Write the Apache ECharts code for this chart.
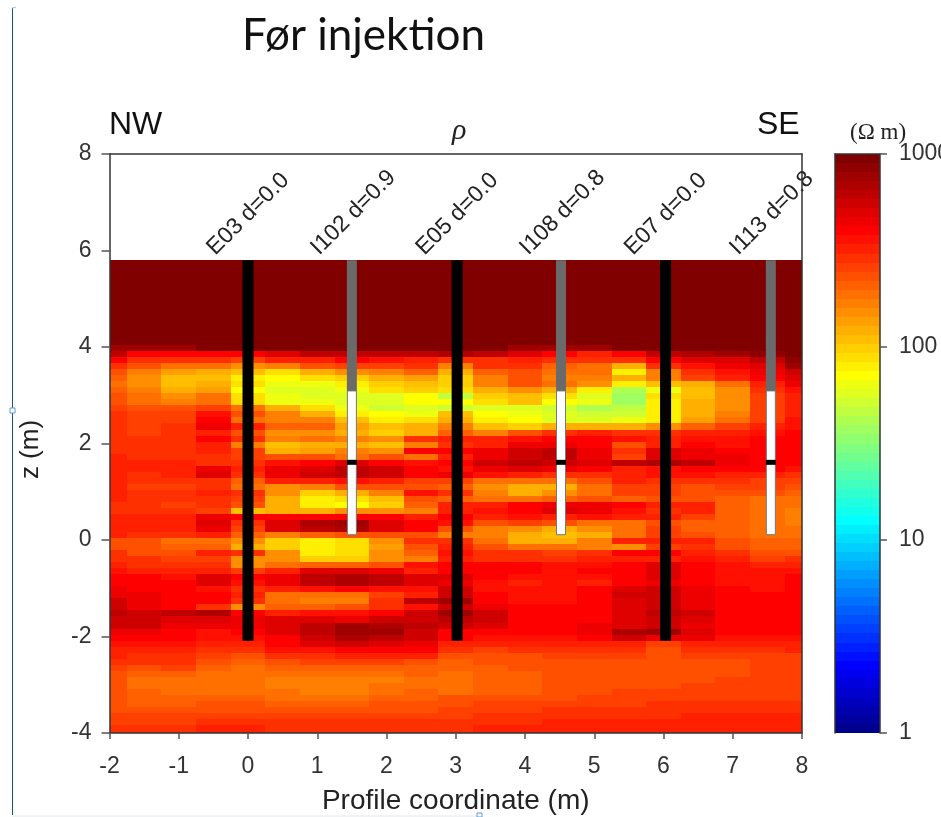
<!DOCTYPE html>
<html><head><meta charset="utf-8">
<style>html,body{margin:0;padding:0;background:#fff}#c{width:941px;height:817px}</style>
<script src="https://cdn.jsdelivr.net/npm/echarts@6/dist/echarts.min.js"></script>
</head><body><div id="c"></div>
<script>
const columnX = [-2,-1.5,-1,-0.5,0,0.5,1,1.5,2,2.5,3,3.5,4,4.5,5,5.5,6,6.5,7,7.5,8];
const surfaceZ = 5.79, rowStep = 0.125, bottomZ = -4;
const rhoRows = [
[1000,1000,1000,1000,1000,1000,1000,1000,1000,1000,1000,1000,1000,1000,1000,1000,1000,1000,1000,1000,1000],
[1000,1000,1000,1000,1000,1000,1000,1000,1000,1000,1000,1000,1000,1000,1000,1000,1000,1000,1000,1000,1000],
[1000,1000,1000,1000,1000,1000,1000,1000,1000,1000,1000,1000,1000,1000,1000,1000,1000,1000,1000,1000,1000],
[1000,1000,1000,1000,1000,1000,1000,1000,1000,1000,1000,1000,1000,1000,1000,1000,1000,1000,1000,1000,1000],
[1000,1000,1000,1000,1000,1000,1000,1000,1000,1000,1000,1000,1000,1000,1000,1000,1000,1000,1000,1000,1000],
[1000,1000,1000,1000,1000,1000,1000,1000,1000,1000,1000,1000,1000,1000,1000,1000,1000,1000,1000,1000,1000],
[1000,1000,1000,1000,1000,1000,1000,1000,1000,1000,1000,1000,1000,1000,1000,1000,1000,1000,1000,1000,1000],
[1000,1000,1000,1000,1000,1000,1000,1000,1000,1000,1000,1000,1000,1000,1000,1000,1000,1000,1000,1000,1000],
[1000,1000,1000,1000,1000,1000,1000,1000,1000,1000,1000,1000,1000,1000,1000,1000,1000,1000,1000,1000,1000],
[1000,1000,1000,1000,1000,1000,1000,1000,1000,1000,1000,1000,1000,1000,1000,1000,1000,1000,1000,1000,1000],
[1000,1000,1000,1000,1000,1000,1000,1000,1000,1000,1000,1000,1000,1000,1000,1000,1000,1000,1000,1000,1000],
[1000,1000,1000,1000,1000,1000,1000,1000,1000,1000,1000,1000,1000,1000,1000,1000,1000,1000,1000,1000,1000],
[1000,1000,1000,1000,1000,1000,1000,1000,1000,1000,1000,1000,1000,1000,1000,1000,1000,1000,1000,1000,1000],
[1000,1000,1000,1000,1000,1000,1000,1000,1000,1000,1000,1000,1000,1000,1000,1000,1000,1000,1000,1000,1000],
[850,850,850,1000,1000,1000,1000,1000,1000,1000,1000,1000,850,850,850,1000,1000,1000,1000,1000,1000],
[630,422,422,422,422,500,630,630,680,680,720,680,500,422,350,400,630,720,850,940,1000],
[410,315,315,295,275,335,350,400,370,350,295,315,335,315,295,295,422,500,540,680,940],
[315,235,205,195,168,178,255,275,275,295,178,295,315,220,195,133,295,370,470,520,780],
[235,178,143,133,116,89,133,155,178,220,133,220,255,195,205,84,178,315,360,470,605],
[220,168,116,116,84,75,89,108,124,143,101,178,235,178,178,133,178,275,335,422,540],
[205,168,116,133,89,68,66,84,101,116,104,178,235,205,155,84,116,133,205,350,470],
[220,178,133,143,75,58,58,64,89,101,89,124,155,133,80,45,64,116,155,295,370],
[235,195,155,195,89,64,58,61,61,75,50,101,116,89,63,40,95,116,155,275,350],
[255,205,178,195,89,70,66,61,58,75,72,89,116,72,64,40,86,124,168,275,340],
[275,255,235,275,205,133,92,68,55,58,57,63,63,57,45,50,84,133,168,275,340],
[295,275,275,370,235,178,133,86,72,70,116,72,64,60,55,57,84,133,178,275,350],
[295,285,285,400,195,178,178,116,86,89,133,80,72,63,63,66,86,143,195,275,370],
[305,275,305,470,335,220,220,143,116,133,178,116,108,124,124,124,155,220,275,325,380],
[305,275,305,350,235,168,168,133,108,124,220,178,255,295,335,315,295,350,350,360,400],
[315,305,315,400,295,178,205,178,155,295,350,325,360,400,422,380,350,380,370,400,410],
[315,305,315,350,178,116,124,133,116,178,315,350,485,485,400,255,350,400,370,400,410],
[315,305,315,350,275,133,143,178,168,400,422,485,585,630,470,295,500,470,435,410,422],
[350,315,315,315,275,235,255,205,235,205,335,485,605,630,450,275,540,470,450,410,435],
[350,325,325,315,315,370,422,500,422,370,410,560,650,605,540,680,750,650,485,422,422],
[340,325,335,470,335,470,540,680,560,435,380,485,540,485,410,350,380,435,410,400,360],
[340,315,325,520,315,485,560,680,560,410,485,360,350,315,315,350,370,360,350,335,315],
[335,295,295,295,220,350,350,370,350,275,275,205,195,195,255,335,295,295,315,285,275],
[335,285,285,295,195,168,178,235,255,255,220,155,133,133,205,275,275,235,275,275,235],
[340,305,305,350,315,155,101,133,178,370,315,178,133,155,205,275,275,235,255,255,220],
[335,305,295,315,275,133,84,95,116,235,220,195,195,220,235,220,255,235,220,195,205],
[295,295,275,295,235,133,86,72,101,220,350,350,400,470,470,422,350,335,220,205,190],
[305,305,305,275,116,133,133,155,168,178,325,370,435,500,485,380,295,325,220,205,185],
[350,335,340,485,400,422,435,435,400,350,400,350,370,350,370,325,325,275,220,205,185],
[335,335,350,520,295,520,720,780,500,422,370,255,275,255,195,205,235,220,215,205,185],
[350,335,335,485,275,500,680,720,500,435,255,178,168,124,155,205,275,220,215,205,195],
[335,295,315,350,220,178,220,235,235,235,178,178,124,116,124,205,275,235,220,205,200],
[245,235,205,195,155,108,84,98,155,295,295,195,133,124,178,350,350,335,255,220,215],
[235,235,215,220,124,108,84,92,150,255,350,235,195,200,185,168,275,295,255,220,220],
[295,255,245,335,315,155,86,92,155,220,380,295,315,275,295,400,400,340,295,235,235],
[315,295,275,275,168,155,101,108,168,178,335,295,315,315,335,350,350,360,325,275,295],
[335,315,295,295,168,205,220,220,255,370,410,422,422,370,360,400,540,422,370,335,335],
[360,350,335,335,275,335,500,500,470,350,400,422,410,360,400,410,540,410,380,370,370],
[400,400,380,500,400,485,680,750,630,520,520,400,370,360,380,400,520,410,380,380,400],
[410,400,410,520,380,485,680,750,630,520,485,370,350,360,350,422,470,410,380,380,400],
[470,435,410,370,295,335,370,400,380,370,560,380,360,360,400,540,560,470,410,380,400],
[485,470,422,400,350,195,205,195,275,335,585,400,360,360,400,560,560,485,410,400,400],
[560,485,422,422,315,195,178,178,295,630,850,422,370,360,400,540,560,485,422,400,400],
[560,485,435,315,155,220,220,255,295,370,560,450,410,400,422,540,605,485,422,422,410],
[630,605,630,700,435,350,370,380,422,585,780,605,422,410,422,540,630,585,422,422,410],
[605,585,540,520,450,500,520,485,585,585,630,585,435,422,435,540,605,500,435,422,410],
[560,560,470,485,485,540,680,780,720,650,585,520,435,435,485,540,560,485,435,435,410],
[450,470,422,380,435,540,680,810,780,605,422,410,422,400,485,750,780,500,435,435,410],
[422,422,422,380,380,435,585,750,680,605,422,380,370,380,422,560,485,485,370,370,370],
[380,360,360,335,335,422,500,560,500,485,350,335,350,350,350,350,265,335,335,335,350],
[335,350,350,315,315,360,370,422,422,410,295,275,295,315,315,295,245,295,295,295,325],
[335,315,315,275,245,295,295,325,325,325,245,245,255,275,275,275,235,275,275,275,285],
[305,295,295,235,220,245,265,265,265,245,230,245,245,235,235,245,235,245,245,265,265],
[275,255,265,220,200,215,220,220,220,220,220,230,245,235,235,245,235,245,245,265,265],
[245,220,215,205,195,200,195,195,205,215,205,220,220,235,235,245,235,245,245,265,265],
[245,205,205,195,195,185,185,185,185,205,200,220,220,245,245,245,235,255,265,265,265],
[235,205,205,195,195,185,185,185,195,205,200,220,220,245,245,245,245,265,275,275,275],
[235,215,205,200,197,200,185,185,205,215,200,230,230,245,245,275,275,275,275,275,275],
[235,215,215,220,220,205,205,205,215,230,235,245,255,255,265,275,275,285,285,285,285],
[235,220,220,245,235,220,220,220,235,235,245,265,265,275,275,285,295,305,305,305,305],
[255,255,255,255,255,255,245,245,255,255,265,285,285,295,295,305,315,315,315,315,315],
[275,275,275,275,275,275,275,275,275,275,285,295,295,305,315,315,315,325,325,325,325],
[285,285,285,305,305,295,295,295,295,295,305,315,315,335,335,335,335,335,335,335,335],
[315,315,315,325,325,315,315,315,315,315,315,335,335,340,340,340,340,340,340,340,340]
];
const electrodeX = [0,3.02,6.03];
const electrodeTop = 5.8, electrodeBottom = -2.09;
const injectionX = [1.5,4.52,7.55];
const casingTop = 5.8, screenTop = 3.09, screenBottom = 0.11, packerZ = 1.61;
const wellLabelX = [0,1.5,3.02,4.52,6.03,7.55];
const wellLabels = ['E03 d=0.0','I102 d=0.9','E05 d=0.0','I108 d=0.8','E07 d=0.0','I113 d=0.8'];
const labelZ = 6;

function jet(t){
  const c=v=>Math.round(255*Math.max(0,Math.min(1,v)));
  return `rgb(${c(1.5-Math.abs(4*t-3))},${c(1.5-Math.abs(4*t-2))},${c(1.5-Math.abs(4*t-1))})`;
}
function rhoColor(v){
  const n=Math.max(1,Math.min(64,Math.round(Math.log10(v)/3*64)));
  return jet(n/64);
}
const cells=[];
rhoRows.forEach((row,r)=>row.forEach((v,c)=>cells.push([c,r,v])));
const nRows=rhoRows.length;
function cellItem(params,api){
  const c=api.value(0), r=api.value(1), x=columnX[c];
  const zt=r===0?electrodeTop:surfaceZ-r*rowStep;
  const zb=r===nRows-1?bottomZ:surfaceZ-(r+1)*rowStep;
  const x0=Math.max(x-0.25,columnX[0]), x1=Math.min(x+0.25,columnX[columnX.length-1]);
  const a=api.coord([x0,zt]), b=api.coord([x1,zb]);
  const X=Math.round(a[0]), Y=Math.round(a[1]);
  return {type:'rect',shape:{x:X,y:Y,width:Math.round(b[0])-X,height:Math.round(b[1])-Y},
    style:{fill:rhoColor(api.value(2))}};
}
function wellItem(params,api){
  const x=api.value(0), kind=api.value(1);
  const px=api.coord([x,0])[0];
  const Y=z=>api.coord([x,z])[1];
  if(kind===0){
    return {type:'rect',shape:{x:px-5.5,y:Y(electrodeTop),width:11,height:Y(electrodeBottom)-Y(electrodeTop)},style:{fill:'#000'}};
  }
  return {type:'group',children:[
    {type:'rect',shape:{x:px-5,y:Y(casingTop),width:10,height:Y(screenTop)-Y(casingTop)},style:{fill:'#6a6a6a'}},
    {type:'rect',shape:{x:px-4.5,y:Y(screenTop),width:9,height:Y(screenBottom)-Y(screenTop)},style:{fill:'#fff',stroke:'#777',lineWidth:1}},
    {type:'rect',shape:{x:px-5,y:Y(packerZ)-2.5,width:10,height:5},style:{fill:'#000'}}
  ]};
}
function labelItem(params,api){
  const i=api.value(0);
  const p=api.coord([wellLabelX[i],labelZ]);
  return {type:'text',x:p[0]-29,y:p[1]+9,rotation:Math.PI/4,
    style:{text:wellLabels[i],fill:'#222',font:'23px "Liberation Sans"',textAlign:'left',textVerticalAlign:'bottom'}};
}
function bandItem(params,api){
  const n=api.value(0);
  const a=api.coord([0,Math.pow(10,3*n/64)]), b=api.coord([1,Math.pow(10,3*(n-1)/64)]);
  return {type:'rect',shape:{x:a[0],y:Math.round(a[1]),width:b[0]-a[0],height:Math.round(b[1])-Math.round(a[1])},style:{fill:jet(n/64)}};
}
const bands=[]; for(let n=1;n<=64;n++) bands.push([n]);
const axisLine={show:true,onZero:false,lineStyle:{color:'#333',width:1.5}};
const tick={show:true,inside:false,length:8,lineStyle:{color:'#555',width:1.5}};
const lab={color:'#333',fontFamily:'Liberation Sans',fontSize:23};
const chart=echarts.init(document.getElementById('c'),null,{renderer:'canvas'});
chart.setOption({
  animation:false,backgroundColor:'#fff',
  title:[
    {text:'Før injektion',left:237,top:9,textStyle:{fontFamily:'Lato',fontSize:44,fontWeight:'normal',color:'#111'}},
    {text:'NW',left:104,top:104,textStyle:{fontFamily:'Liberation Sans',fontSize:32,fontWeight:'normal',color:'#111'}},
    {text:'SE',left:752,top:104,textStyle:{fontFamily:'Liberation Sans',fontSize:32,fontWeight:'normal',color:'#111'}},
    {text:'ρ',left:447,top:111,textStyle:{fontFamily:'Liberation Serif',fontSize:30,fontStyle:'italic',fontWeight:'normal',color:'#222'}},
    {text:'(Ω m)',left:845,top:116,textStyle:{fontFamily:'Liberation Serif',fontSize:23,fontWeight:'normal',color:'#222'}}
  ],
  grid:[
    {left:109.5,top:154,width:692.5,height:579,show:false,outerBoundsMode:'none'},
    {left:835,top:154,width:45,height:579,show:false,outerBoundsMode:'none'}
  ],
  xAxis:[
    {type:'value',gridIndex:0,min:-2,max:8,interval:1,position:'bottom',z:5,
     name:'Profile coordinate (m)',nameLocation:'middle',nameGap:54,
     nameTextStyle:{color:'#222',fontFamily:'Liberation Sans',fontSize:28},
     splitLine:{show:false},axisLine,axisTick:{...tick,length:6},axisLabel:{...lab,margin:22}},
    {type:'value',gridIndex:0,min:-2,max:8,position:'top',z:5,splitLine:{show:false},axisLine,axisTick:{show:false},axisLabel:{show:false}},
    {type:'value',gridIndex:1,min:0,max:1,show:false},
    {type:'value',gridIndex:1,min:0,max:1,position:'top',z:5,splitLine:{show:false},axisLine,axisTick:{show:false},axisLabel:{show:false}}
  ],
  yAxis:[
    {type:'value',gridIndex:0,min:-4,max:8,interval:2,position:'left',z:5,
     name:'z (m)',nameLocation:'middle',nameGap:66,nameRotate:90,
     nameTextStyle:{color:'#222',fontFamily:'Liberation Sans',fontSize:26,padding:[0,12,0,0]},
     splitLine:{show:false},axisLine,axisTick:tick,axisLabel:{...lab,margin:18}},
    {type:'value',gridIndex:0,min:-4,max:8,position:'right',z:5,splitLine:{show:false},axisLine,axisTick:{show:false},axisLabel:{show:false}},
    {type:'log',gridIndex:1,logBase:10,min:1,max:1000,position:'right',z:5,
     splitLine:{show:false},axisLine,axisTick:{...tick,length:7},minorTick:{show:false},
     axisLabel:{...lab,margin:19,formatter:v=>String(Math.round(v))}},
    {type:'value',gridIndex:1,min:0,max:1,position:'left',z:5,splitLine:{show:false},axisLine,axisTick:{show:false},axisLabel:{show:false}}
  ],
  graphic:[
    {type:'line',silent:true,shape:{x1:12.5,y1:8,x2:12.5,y2:815},style:{stroke:'#1f4e79',lineWidth:1}},
    {type:'line',silent:true,shape:{x1:12,y1:8,x2:16,y2:7},style:{stroke:'#9cc4e4',lineWidth:1}},
    {type:'line',silent:true,shape:{x1:12,y1:816,x2:480,y2:816},style:{stroke:'#e2e6ea',lineWidth:1}},
    {type:'rect',silent:true,shape:{x:10,y:408,width:5,height:5},style:{fill:'#fff',stroke:'#5b9bd5',lineWidth:1}},
    {type:'rect',silent:true,shape:{x:477,y:813,width:5,height:4},style:{fill:'#fff',stroke:'#5b9bd5',lineWidth:1}}
  ],
  series:[
    {type:'custom',xAxisIndex:0,yAxisIndex:0,coordinateSystem:'cartesian2d',renderItem:cellItem,data:cells,silent:true,z:2,progressive:0,clip:true,encode:{x:0,y:1}},
    {type:'custom',xAxisIndex:0,yAxisIndex:0,renderItem:wellItem,silent:true,z:3,clip:false,encode:{x:0},
     data:electrodeX.map(x=>[x,0]).concat(injectionX.map(x=>[x,1]))},
    {type:'custom',xAxisIndex:0,yAxisIndex:0,renderItem:labelItem,silent:true,z:4,clip:false,encode:{x:0},
     data:wellLabels.map((t,i)=>[i])},
    {type:'custom',xAxisIndex:2,yAxisIndex:2,renderItem:bandItem,silent:true,z:2,clip:false,encode:{x:0},progressive:0,data:bands}
  ]
});
</script></body></html>
